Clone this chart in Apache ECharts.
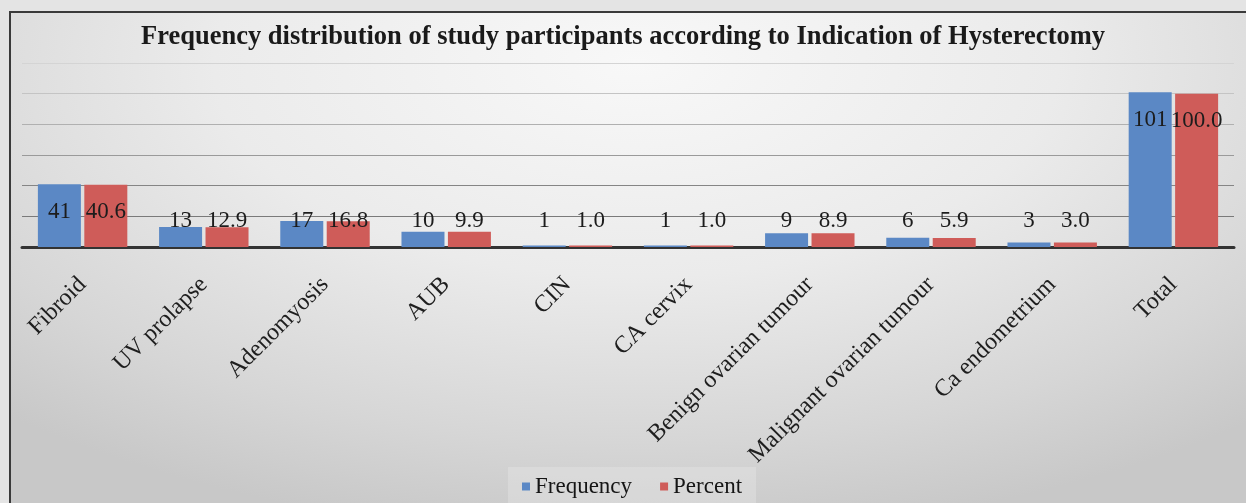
<!DOCTYPE html>
<html>
<head>
<meta charset="utf-8">
<script src="https://cdn.jsdelivr.net/npm/echarts@6/dist/echarts.min.js"></script>
<style>
  html, body { margin: 0; padding: 0; width: 1246px; height: 503px; overflow: hidden; background: #e4e4e4; }
  #frame {
    position: absolute; left: 9px; top: 11px; width: 1250px; height: 500px;
    border-left: 2px solid #3a3a3a; border-top: 2px solid #3a3a3a;
    background: radial-gradient(ellipse 75% 95% at 50% 10%, #f8f8f8 0%, #ebebeb 45%, #d6d6d6 80%, #c8c8c8 100%);
  }
  #chart { position: absolute; left: 0; top: 0; width: 1246px; height: 503px; }
</style>
</head>
<body>
<div id="frame"></div>
<div id="chart"></div>
<script>
// Indications of hysterectomy among study participants
const categories = ['Fibroid', 'UV prolapse', 'Adenomyosis', 'AUB', 'CIN', 'CA cervix',
  'Benign ovarian tumour', 'Malignant ovarian tumour', 'Ca endometrium', 'Total'];
const frequency = [41, 13, 17, 10, 1, 1, 9, 6, 3, 101];
const percent = [40.6, 12.9, 16.8, 9.9, 1.0, 1.0, 8.9, 5.9, 3.0, 100.0];
const percentText = ['40.6', '12.9', '16.8', '9.9', '1.0', '1.0', '8.9', '5.9', '3.0', '100.0'];

const serif = '"Liberation Serif", "Times New Roman", serif';

// Tall bars carry their label inside the top; short bars keep it on a common line above the axis
function labelled(values, texts) {
  return values.map((v, i) => {
    const tall = v >= 30;
    return {
      value: v,
      label: {
        show: true,
        position: tall ? 'insideTop' : 'insideBottom',
        distance: tall ? 16 : 15,
        formatter: texts ? texts[i] : String(v),
        fontFamily: serif,
        fontSize: 23,
        color: '#1c1c1c'
      }
    };
  });
}

const chart = echarts.init(document.getElementById('chart'), null, { renderer: 'canvas' });
chart.setOption({
  backgroundColor: 'transparent',
  animation: false,
  title: {
    text: 'Frequency distribution of study participants according to Indication of Hysterectomy',
    left: 'center',
    top: 19,
    textStyle: { fontFamily: serif, fontWeight: 'bold', fontSize: 26.5, color: '#1a1a1a' }
  },
  legend: {
    data: ['Frequency', 'Percent'],
    left: 508,
    top: 467,
    padding: [8, 14, 10, 14],
    itemWidth: 8,
    itemHeight: 8,
    itemGap: 28,
    icon: 'rect',
    backgroundColor: 'rgba(240,240,240,0.3)',
    textStyle: { fontFamily: serif, fontSize: 23, color: '#151515' }
  },
  grid: { left: 22, right: 12, top: 63, bottom: 256, containLabel: false },
  xAxis: {
    type: 'category',
    data: categories,
    axisLine: { lineStyle: { color: '#333', width: 3 } },
    axisTick: { show: false },
    axisLabel: {
      interval: 0,
      rotate: 45,
      margin: 34,
      fontFamily: serif,
      fontSize: 24,
      color: '#1e1e1e'
    }
  },
  yAxis: {
    type: 'value',
    min: 0,
    max: 120,
    interval: 20,
    axisLine: { show: false },
    axisTick: { show: false },
    axisLabel: { show: false },
    splitLine: {
      lineStyle: {
        color: ['#777777', '#7a7a7a', '#858585', '#9a9a9a', '#b0b0b0', '#c4c4c4', '#d4d4d4'],
        width: 1
      }
    }
  },
  series: [
    {
      name: 'Frequency',
      type: 'bar',
      barWidth: 43,
      barGap: '8%',
      itemStyle: { color: '#5b88c5' },
      data: labelled(frequency)
    },
    {
      name: 'Percent',
      type: 'bar',
      barWidth: 43,
      itemStyle: { color: '#cf5c59' },
      data: labelled(percent, percentText)
    }
  ]
});
</script>
</body>
</html>
